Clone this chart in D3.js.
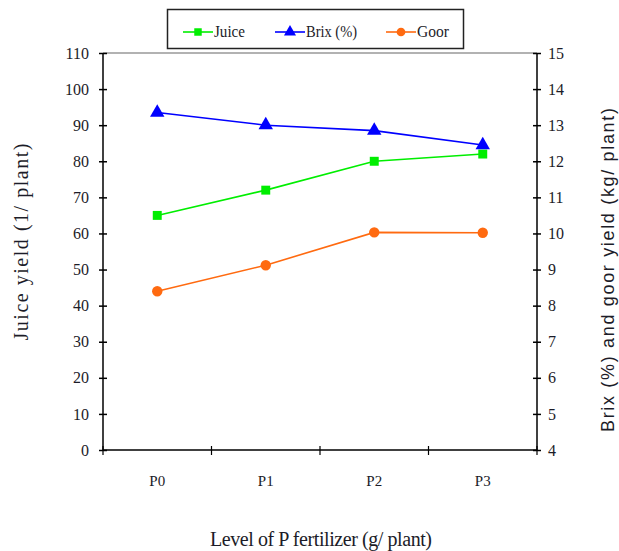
<!DOCTYPE html>
<html><head><meta charset="utf-8">
<script src="https://cdn.jsdelivr.net/npm/d3@7"></script>
<style>body{margin:0;background:#fff}</style>
</head><body>
<svg id="c" width="619" height="551"></svg>
<script>
const categories = ["P0","P1","P2","P3"];
const juice = [65, 72, 80, 82];
const brix = [13.35, 13.0, 12.85, 12.45];
const goor = [8.4, 9.12, 10.03, 10.02];
const leftTicks = d3.range(0, 111, 10);
const rightTicks = d3.range(4, 16, 1);

const svg = d3.select("#c");
const m = {l:103, r:537, t:53, b:450};
const font = "'Liberation Serif', serif";
const x = d3.scaleBand().domain(categories).range([m.l, m.r]);
const yL = d3.scaleLinear().domain([0,110]).range([m.b, m.t]);
const yR = d3.scaleLinear().domain([4,15]).range([m.b, m.t]);
const cx = d => x(d) + x.bandwidth()/2;
const txt = "#1c1c28";

// top border
svg.append("line").attr("x1",m.l).attr("x2",m.r).attr("y1",m.t).attr("y2",m.t).attr("stroke","#999").attr("stroke-width",1.5);

// left axis
const gL = svg.append("g").attr("transform",`translate(${m.l},0)`)
  .call(d3.axisLeft(yL).tickValues(leftTicks).tickSize(4).tickPadding(10));
gL.selectAll(".tick line").attr("x2",4).attr("x1",-4);
// right axis
const gR = svg.append("g").attr("transform",`translate(${m.r},0)`)
  .call(d3.axisRight(yR).tickValues(rightTicks).tickSize(4).tickPadding(7));
gR.selectAll(".tick line").attr("x1",-4).attr("x2",4);
// bottom axis
const gB = svg.append("g").attr("transform",`translate(0,${m.b})`)
  .call(d3.axisBottom(x).tickSize(0).tickPadding(25));
gB.selectAll(".tick line").remove();
svg.selectAll(".boundary").data([...categories.map(c=>x(c)), m.r]).enter().append("line")
  .attr("x1",d=>d).attr("x2",d=>d).attr("y1",m.b-4).attr("y2",m.b+5).attr("stroke","#000").attr("stroke-width",1.2);

[gL,gR,gB].forEach(g=>{
  g.attr("font-family",font);
  g.select(".domain").attr("stroke","#000").attr("stroke-width",1.5);
  g.selectAll(".tick line").attr("stroke","#000").attr("stroke-width",1.5);
  g.selectAll("text").attr("font-family",font).attr("font-size",16).attr("fill",txt);
});
gB.selectAll("text").attr("font-size",15);
gB.select(".domain").attr("d",`M${m.l},0H${m.r}`);
gL.select(".domain").attr("d",`M0,${m.b}V${m.t}`);
gR.select(".domain").attr("d",`M0,${m.b}V${m.t}`);

// series
const series = [
  {name:"Juice", vals:juice, scale:yL, color:"#00ee00", shape:d3.symbolSquare, size:80},
  {name:"Brix (%)", vals:brix, scale:yR, color:"#0000ff", shape:d3.symbolTriangle, size:90},
  {name:"Goor", vals:goor, scale:yR, color:"#ff6a10", shape:d3.symbolCircle, size:85}
];
series.forEach(s=>{
  const line = d3.line().x((d,i)=>cx(categories[i])).y(d=>s.scale(d));
  svg.append("path").datum(s.vals).attr("d",line).attr("fill","none").attr("stroke",s.color).attr("stroke-width",1.6);
  svg.selectAll(null).data(s.vals).enter().append("path")
    .attr("d",d3.symbol().type(s.shape).size(s.size))
    .attr("transform",(d,i)=>`translate(${cx(categories[i])},${s.scale(d)})`)
    .attr("fill",s.color);
});

// legend
svg.append("rect").attr("x",167.5).attr("y",9.5).attr("width",296).attr("height",39).attr("fill","#fff").attr("stroke","#222").attr("stroke-width",1.5);
const lx = [183, 275, 386];
const lw = [31, 51, 32];
series.forEach((s,i)=>{
  const g = svg.append("g");
  g.append("line").attr("x1",lx[i]).attr("x2",lx[i]+30).attr("y1",32).attr("y2",32).attr("stroke",s.color).attr("stroke-width",1.6);
  g.append("path").attr("d",d3.symbol().type(s.shape).size(s.size*0.7)).attr("transform",`translate(${lx[i]+15},32)`).attr("fill",s.color);
  g.append("text").attr("x",lx[i]+31).attr("y",37).text(s.name).attr("font-family",font).attr("font-size",16)
    .attr("textLength",lw[i]).attr("lengthAdjust","spacingAndGlyphs").attr("fill",txt);
});

// axis titles
svg.append("text").attr("transform","translate(28,242) rotate(-90)").attr("text-anchor","middle")
  .attr("font-family",font).attr("font-size",20).attr("textLength",197).attr("lengthAdjust","spacing")
  .attr("fill",txt).text("Juice yield (1/ plant)");
svg.append("text").attr("transform","translate(614,270) rotate(-90)").attr("text-anchor","middle")
  .attr("font-family","'Liberation Sans', Arial, sans-serif").attr("font-size",18).attr("textLength",324).attr("lengthAdjust","spacing")
  .attr("fill",txt).text("Brix (%) and goor yield (kg/ plant)");
svg.append("text").attr("x",321).attr("y",546).attr("text-anchor","middle")
  .attr("font-family",font).attr("font-size",20).attr("textLength",222).attr("lengthAdjust","spacing")
  .attr("fill",txt).text("Level of P fertilizer (g/ plant)");
</script>
</body></html>
